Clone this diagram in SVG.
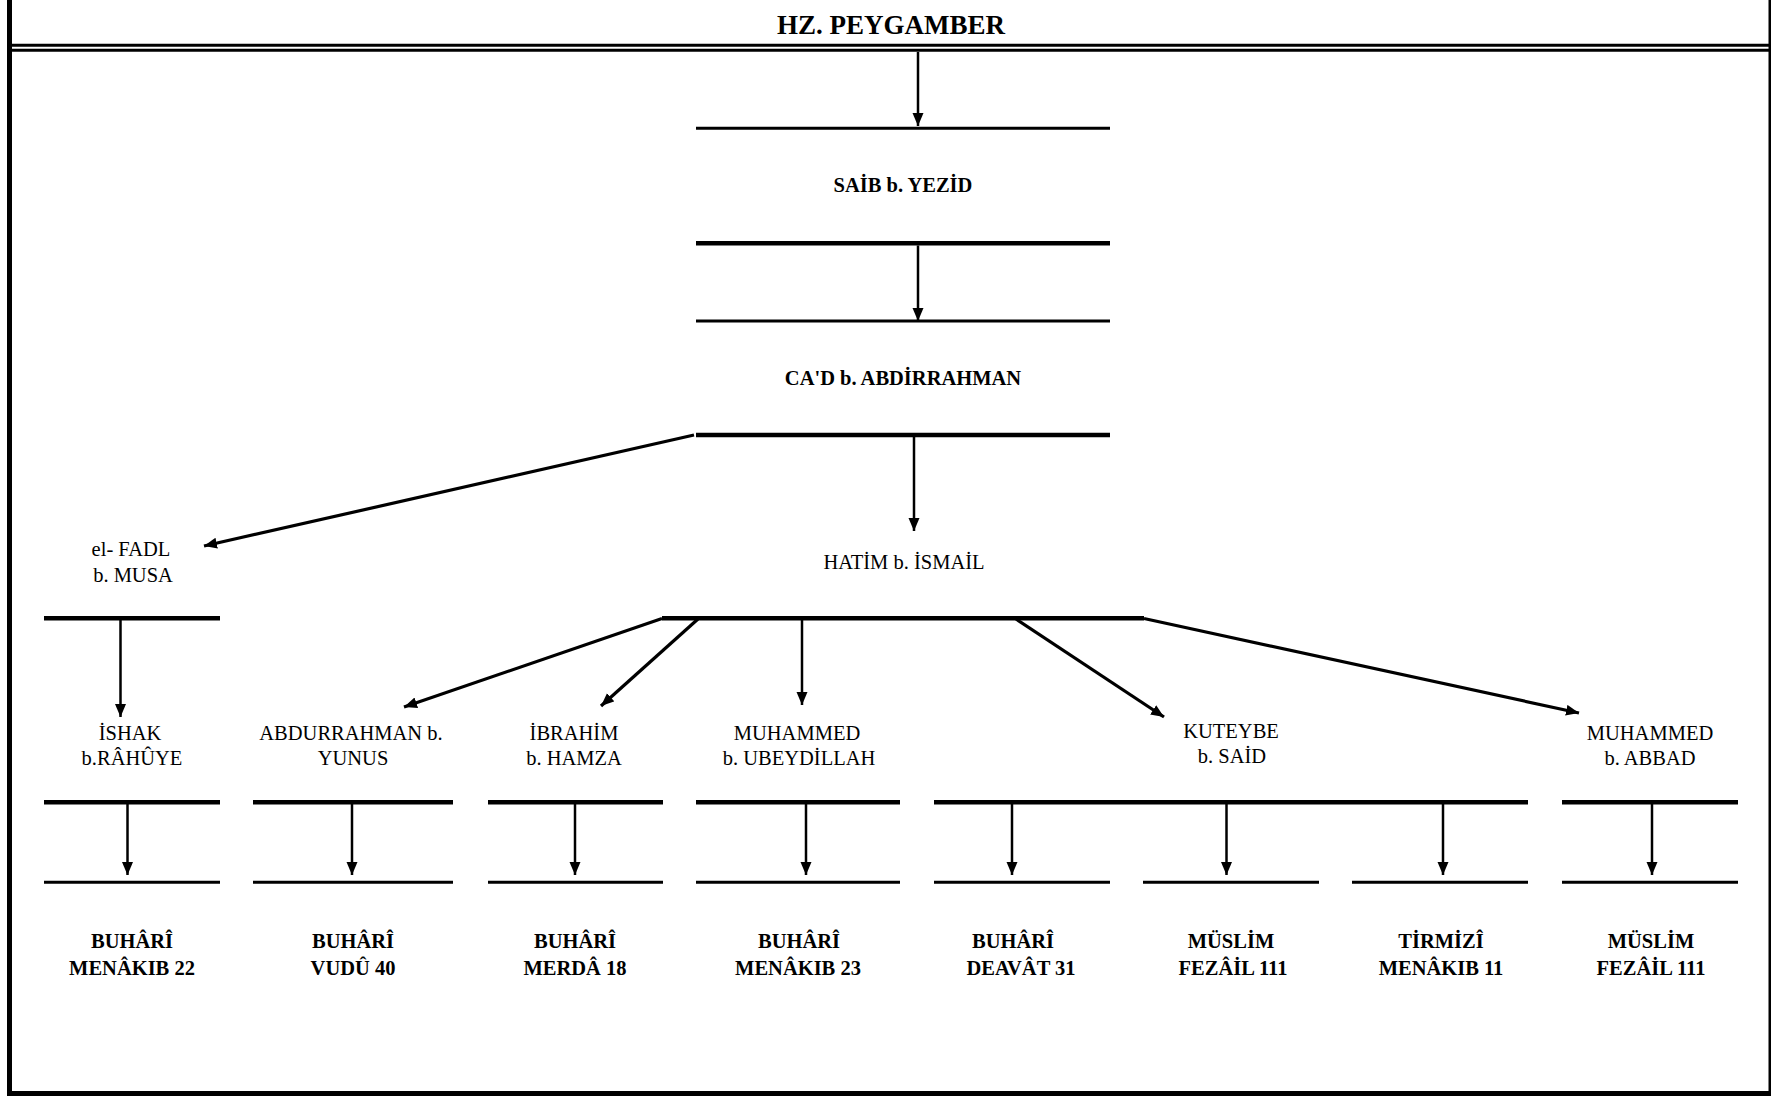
<svg xmlns="http://www.w3.org/2000/svg" width="1771" height="1097" viewBox="0 0 1771 1097">
<style>
  .bg { fill: #ffffff; }
  .frame { stroke: #000; fill: none; }
  .thick { stroke: #000; stroke-width: 4.5; fill: none; }
  .thin { stroke: #000; stroke-width: 3; fill: none; }
  .conn { stroke: #000; stroke-width: 2.5; fill: none; marker-end: url(#ah); }
  .diag { stroke: #000; stroke-width: 3.2; fill: none; marker-end: url(#ah); }
  .t { font-family: "Liberation Serif", "Times New Roman", serif; font-size: 20.5px; fill: #000; text-anchor: middle; }
  .b { font-weight: bold; }
  .title { font-family: "Liberation Serif", "Times New Roman", serif; font-size: 27px; font-weight: bold; fill: #000; text-anchor: middle; }
</style>
<defs>
  <marker id="ah" markerUnits="userSpaceOnUse" markerWidth="14" markerHeight="12" refX="13" refY="5.5" orient="auto">
    <path d="M0,0 L13,5.5 L0,11 z" fill="#000"/>
  </marker>
</defs>
<rect class="bg" x="0" y="0" width="1771" height="1097"/>

<g id="frame">
  <line class="frame" x1="9.5" y1="0" x2="9.5" y2="1096" stroke-width="5"/>
  <line class="frame" x1="7" y1="1093.5" x2="1771" y2="1093.5" stroke-width="5"/>
  <line class="frame" x1="1770" y1="0" x2="1770" y2="1096" stroke-width="3"/>
</g>

<g id="n-peygamber">
  <text class="title" x="891" y="34">HZ. PEYGAMBER</text>
  <line class="thin" x1="12" y1="45.2" x2="1771" y2="45.2"/>
  <line class="thin" x1="12" y1="50.2" x2="1771" y2="50.2"/>
</g>

<g id="n-saib">
  <line class="thin" x1="696" y1="128.3" x2="1110" y2="128.3"/>
  <text class="t b" x="903" y="191.5">SAİB b. YEZİD</text>
  <line class="thick" x1="696" y1="243.3" x2="1110" y2="243.3"/>
</g>

<g id="n-cad">
  <line class="thin" x1="696" y1="321" x2="1110" y2="321"/>
  <text class="t b" x="903" y="385">CA'D b. ABDİRRAHMAN</text>
  <line class="thick" x1="696" y1="435" x2="1110" y2="435"/>
</g>

<g id="n-fadl">
  <text class="t" x="131" y="556">el- FADL</text>
  <text class="t" x="133" y="582">b. MUSA</text>
  <line class="thick" x1="44" y1="618.3" x2="220" y2="618.3"/>
</g>

<g id="n-hatim">
  <text class="t" x="904" y="569.3">HATİM b. İSMAİL</text>
  <line class="thick" x1="662" y1="618.3" x2="1144" y2="618.3"/>
</g>

<g id="n-ishak">
  <text class="t" x="130" y="740">İSHAK</text>
  <text class="t" x="132" y="765">b.RÂHÛYE</text>
  <line class="thick" x1="44" y1="802.3" x2="220" y2="802.3"/>
</g>

<g id="n-abdurrahman">
  <text class="t" x="351" y="740">ABDURRAHMAN b.</text>
  <text class="t" x="353" y="765">YUNUS</text>
  <line class="thick" x1="253" y1="802.3" x2="453" y2="802.3"/>
</g>

<g id="n-ibrahim">
  <text class="t" x="574" y="740">İBRAHİM</text>
  <text class="t" x="574" y="765">b. HAMZA</text>
  <line class="thick" x1="488" y1="802.3" x2="663" y2="802.3"/>
</g>

<g id="n-muhammed-u">
  <text class="t" x="797" y="740">MUHAMMED</text>
  <text class="t" x="799" y="765">b. UBEYDİLLAH</text>
  <line class="thick" x1="696" y1="802.3" x2="900" y2="802.3"/>
</g>

<g id="n-kuteybe">
  <text class="t" x="1231" y="738">KUTEYBE</text>
  <text class="t" x="1232" y="763">b. SAİD</text>
  <line class="thick" x1="934" y1="802.3" x2="1528" y2="802.3"/>
</g>

<g id="n-muhammed-a">
  <text class="t" x="1650" y="740">MUHAMMED</text>
  <text class="t" x="1650" y="765">b. ABBAD</text>
  <line class="thick" x1="1562" y1="802.3" x2="1738" y2="802.3"/>
</g>

<g id="s-buhari-menakib22">
  <line class="thin" x1="44" y1="882.3" x2="220" y2="882.3"/>
  <text class="t b" x="132" y="948.3">BUHÂRÎ</text>
  <text class="t b" x="132" y="975">MENÂKIB 22</text>
</g>
<g id="s-buhari-vudu40">
  <line class="thin" x1="253" y1="882.3" x2="453" y2="882.3"/>
  <text class="t b" x="353" y="948.3">BUHÂRÎ</text>
  <text class="t b" x="353" y="975">VUDÛ 40</text>
</g>
<g id="s-buhari-merda18">
  <line class="thin" x1="488" y1="882.3" x2="663" y2="882.3"/>
  <text class="t b" x="575" y="948.3">BUHÂRÎ</text>
  <text class="t b" x="575" y="975">MERDÂ 18</text>
</g>
<g id="s-buhari-menakib23">
  <line class="thin" x1="696" y1="882.3" x2="900" y2="882.3"/>
  <text class="t b" x="799" y="948.3">BUHÂRÎ</text>
  <text class="t b" x="798" y="975">MENÂKIB 23</text>
</g>
<g id="s-buhari-deavat31">
  <line class="thin" x1="934" y1="882.3" x2="1110" y2="882.3"/>
  <text class="t b" x="1013" y="948.3">BUHÂRÎ</text>
  <text class="t b" x="1021" y="975">DEAVÂT 31</text>
</g>
<g id="s-muslim-fezail111-a">
  <line class="thin" x1="1143" y1="882.3" x2="1319" y2="882.3"/>
  <text class="t b" x="1231" y="948.3">MÜSLİM</text>
  <text class="t b" x="1233" y="975">FEZÂİL 111</text>
</g>
<g id="s-tirmizi-menakib11">
  <line class="thin" x1="1352" y1="882.3" x2="1528" y2="882.3"/>
  <text class="t b" x="1441" y="948.3">TİRMİZÎ</text>
  <text class="t b" x="1441" y="975">MENÂKIB 11</text>
</g>
<g id="s-muslim-fezail111-b">
  <line class="thin" x1="1562" y1="882.3" x2="1738" y2="882.3"/>
  <text class="t b" x="1651" y="948.3">MÜSLİM</text>
  <text class="t b" x="1651" y="975">FEZÂİL 111</text>
</g>

<g id="connectors">
  <line class="conn" x1="918" y1="52" x2="918" y2="126"/>
  <line class="conn" x1="918" y1="245.5" x2="918" y2="321"/>
  <line class="conn" x1="914" y1="437" x2="914" y2="531"/>
  <line class="diag" x1="694" y1="435" x2="204" y2="546"/>
  <line class="conn" x1="120.5" y1="620" x2="120.5" y2="717"/>
  <line class="diag" x1="662" y1="618.5" x2="404" y2="707"/>
  <line class="diag" x1="698" y1="619" x2="601" y2="706"/>
  <line class="conn" x1="802" y1="620" x2="802" y2="705"/>
  <line class="diag" x1="1016" y1="619" x2="1164" y2="717"/>
  <line class="diag" x1="1144" y1="618.5" x2="1579" y2="713"/>
  <line class="conn" x1="127.5" y1="804" x2="127.5" y2="875"/>
  <line class="conn" x1="352" y1="804" x2="352" y2="875"/>
  <line class="conn" x1="575" y1="804" x2="575" y2="875"/>
  <line class="conn" x1="806" y1="804" x2="806" y2="875"/>
  <line class="conn" x1="1012" y1="804" x2="1012" y2="875"/>
  <line class="conn" x1="1226.5" y1="804" x2="1226.5" y2="875"/>
  <line class="conn" x1="1443" y1="804" x2="1443" y2="875"/>
  <line class="conn" x1="1652" y1="804" x2="1652" y2="875"/>
</g>
</svg>
